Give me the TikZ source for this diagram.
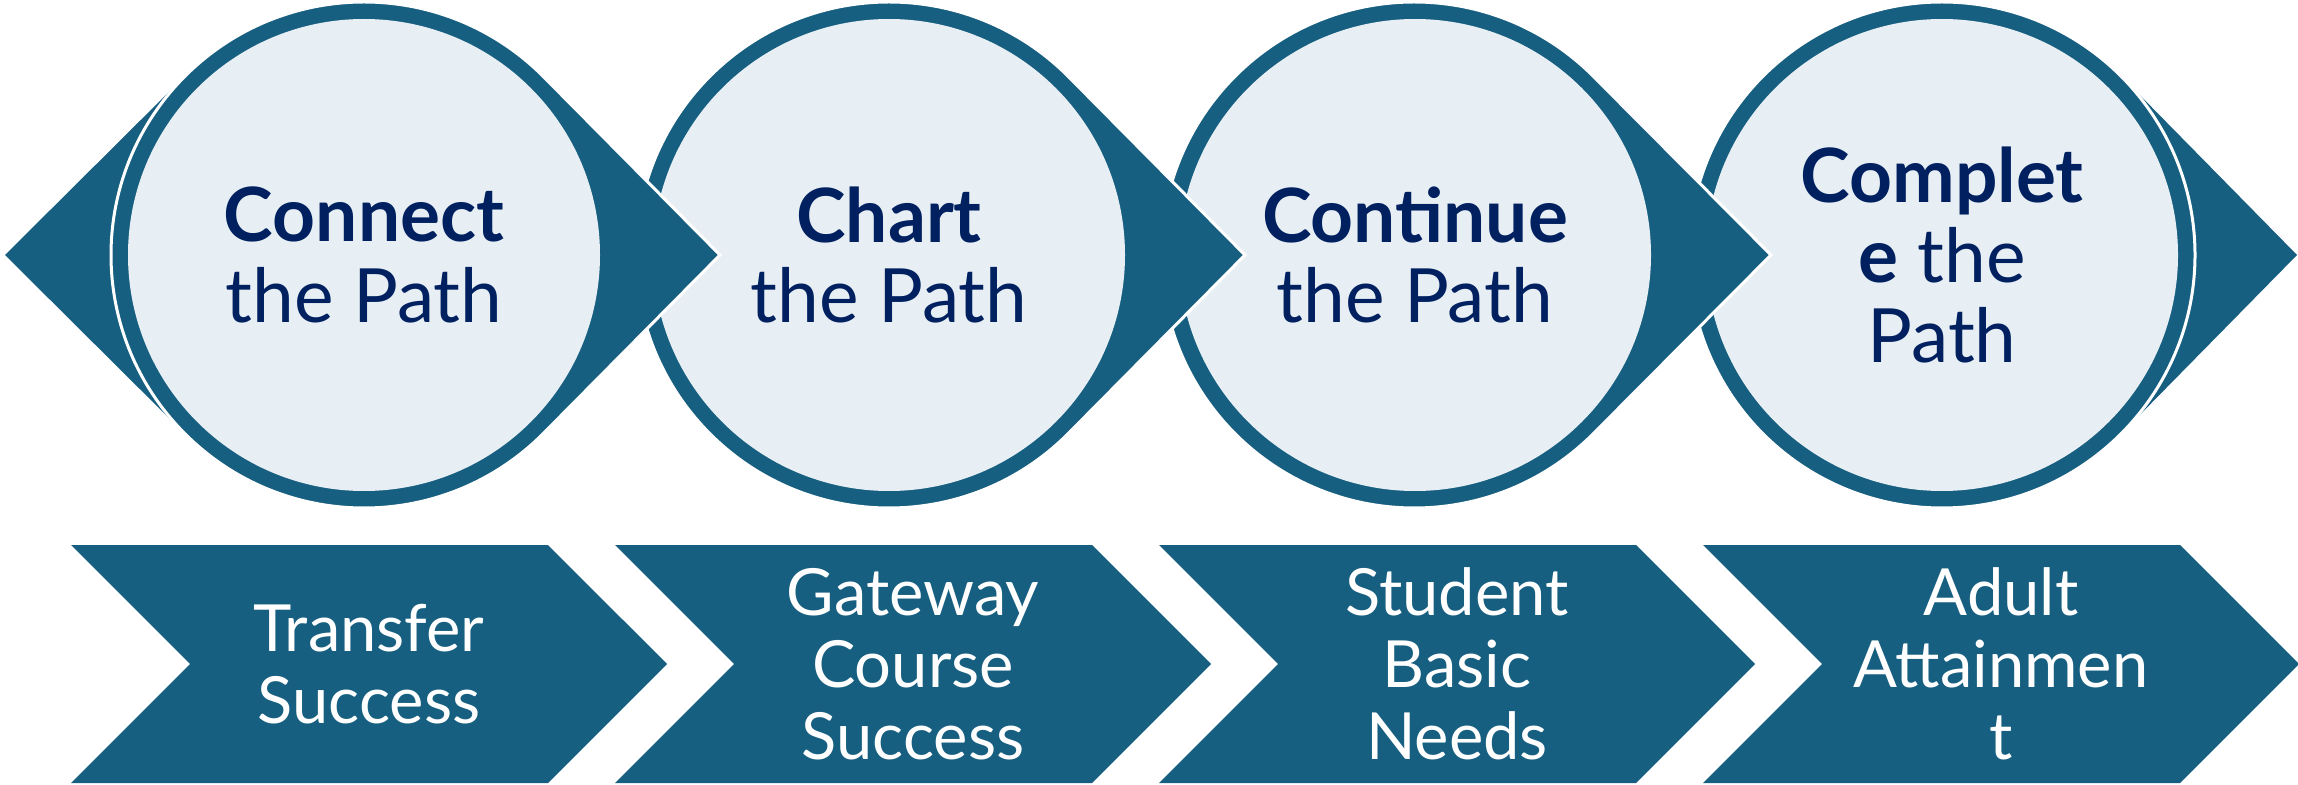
\documentclass[tikz,border=0pt]{standalone}
\usepackage{fontspec}
\setmainfont{Lato}
\usetikzlibrary{shapes.symbols}
\definecolor{pathblue}{RGB}{23,95,128}
\definecolor{pathlight}{RGB}{231,239,244}
\definecolor{pathnavy}{RGB}{0,32,96}

\begin{document}
\begin{tikzpicture}[x=0.1mm,y=0.1mm,
  ring/.style={fill=pathblue,draw=white,line width=0.3mm},
  disc/.style={circle,fill=pathlight,minimum size=47.2mm,inner sep=0pt,
    align=center,text=pathnavy,font=\fontsize{21.3}{22.8}\selectfont},
  arrowbox/.style={signal,signal from=west,signal to=east,signal pointer angle=90,
    fill=pathblue,minimum width=59.6mm,minimum height=23.8mm,inner sep=0pt,
    outer sep=0pt,align=center,text=white,font=\fontsize{18.5}{20.5}\selectfont}]

  \useasboundingbox (0,0) rectangle (2298,784);

  % points sticking out behind the first and the last circle
  \fill[pathblue] (5,529) -- (185,708) -- (185,350) -- cycle;
  \fill[pathblue] (2297,529) -- (2121,708) -- (2121,350) -- cycle;

  % circles, drawn from the last one so that each point lies on the next circle
  \path[ring] (1942,529) circle[radius=253];
  \node[disc] (complete) at (1942,529) {\textbf{Complet}\\\textbf{e} the\\Path};

  \path[ring] (1771,529) -- (1593.1,707.9) arc[start angle=45,end angle=315,radius=253] -- cycle;
  \node[disc] (continue) at (1415,529) {\textbf{Continue}\\the Path};

  \path[ring] (1245,529) -- (1067.9,707.9) arc[start angle=45,end angle=315,radius=253] -- cycle;
  \node[disc] (chart) at (889,529) {\textbf{Chart}\\the Path};

  \path[ring] (720,529) -- (542.9,707.9) arc[start angle=45,end angle=315,radius=253] -- cycle;
  \node[disc] (connect) at (364,529) {\textbf{Connect}\\the Path};

  % chevrons below
  \node[arrowbox] (transfer) at (369,120) {Transfer\\Success};
  \node[arrowbox] (gateway) at (913,120) {Gateway\\Course\\Success};
  \node[arrowbox] (needs) at (1457,120) {Student\\Basic\\Needs};
  \node[arrowbox] (adult) at (2001,120) {Adult\\Attainmen\\t};

\end{tikzpicture}
\end{document}
